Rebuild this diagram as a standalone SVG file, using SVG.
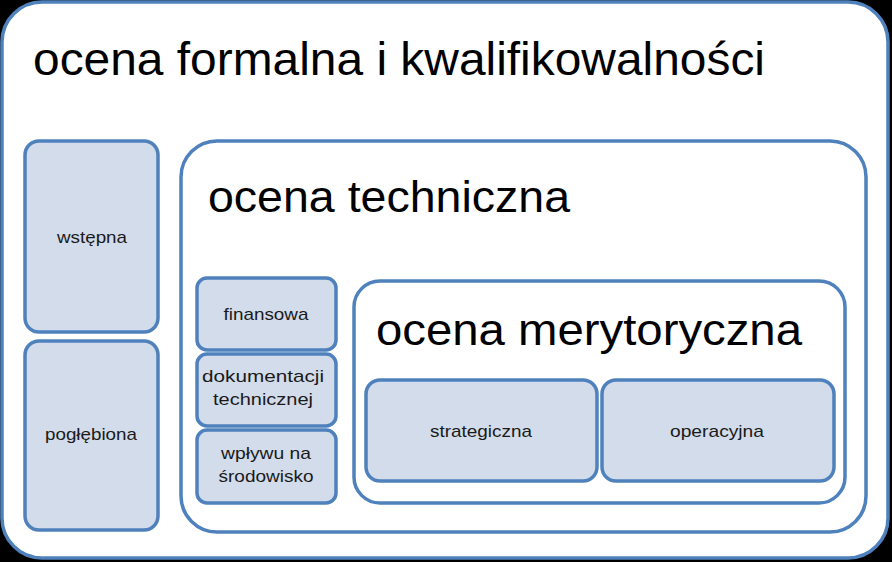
<svg xmlns="http://www.w3.org/2000/svg" width="892" height="562" viewBox="0 0 892 562">
<style>
.cont{fill:#FFFFFF;stroke:#4F81BD;stroke-width:3.5}
.box{fill:#D3DCEA;stroke:#4F81BD;stroke-width:3.5}
.big{font-family:"Liberation Sans",Arial,sans-serif;fill:#000000}
.lbl{font-family:"Liberation Sans",Arial,sans-serif;font-size:17px;fill:#1A1A1A;text-anchor:middle}
</style>
<rect x="0" y="0" width="892" height="562" fill="#000000"/>
<g id="formalna">
<rect class="cont" x="2" y="2" width="886" height="556" rx="40" ry="40"/>
<text class="big" x="33" y="75" font-size="46" textLength="732" lengthAdjust="spacingAndGlyphs">ocena formalna i kwalifikowalności</text>
</g>
<g id="wstepna">
<rect class="box" x="25" y="141" width="133" height="191" rx="14" ry="14"/>
<text class="lbl" x="92" y="243" textLength="70" lengthAdjust="spacingAndGlyphs">wstępna</text>
</g>
<g id="poglebiona">
<rect class="box" x="25" y="341" width="133" height="189" rx="14" ry="14"/>
<text class="lbl" x="91" y="440" textLength="92" lengthAdjust="spacingAndGlyphs">pogłębiona</text>
</g>
<g id="techniczna">
<rect class="cont" x="181" y="141" width="685" height="391" rx="36" ry="36"/>
<text class="big" x="208" y="212" font-size="45" textLength="362" lengthAdjust="spacingAndGlyphs">ocena techniczna</text>
</g>
<g id="finansowa">
<rect class="box" x="197" y="278" width="139" height="72" rx="10" ry="10"/>
<text class="lbl" x="266" y="320" textLength="85" lengthAdjust="spacingAndGlyphs">finansowa</text>
</g>
<g id="dokumentacji">
<rect class="box" x="197" y="354" width="139" height="72" rx="10" ry="10"/>
<text class="lbl" x="263" y="382" textLength="122" lengthAdjust="spacingAndGlyphs">dokumentacji</text>
<text class="lbl" x="263" y="405" textLength="100" lengthAdjust="spacingAndGlyphs">technicznej</text>
</g>
<g id="wplywu">
<rect class="box" x="197" y="430" width="139" height="73" rx="10" ry="10"/>
<text class="lbl" x="266" y="459" textLength="90" lengthAdjust="spacingAndGlyphs">wpływu na</text>
<text class="lbl" x="266" y="482" textLength="95" lengthAdjust="spacingAndGlyphs">środowisko</text>
</g>
<g id="merytoryczna">
<rect class="cont" x="354" y="281" width="491" height="222" rx="26" ry="26"/>
<text class="big" x="376" y="345" font-size="45" textLength="426" lengthAdjust="spacingAndGlyphs">ocena merytoryczna</text>
</g>
<g id="strategiczna">
<rect class="box" x="366" y="380" width="231" height="101" rx="14" ry="14"/>
<text class="lbl" x="481" y="437" textLength="102" lengthAdjust="spacingAndGlyphs">strategiczna</text>
</g>
<g id="operacyjna">
<rect class="box" x="602" y="380" width="232" height="101" rx="14" ry="14"/>
<text class="lbl" x="717" y="437" textLength="94" lengthAdjust="spacingAndGlyphs">operacyjna</text>
</g>
<g id="connectors"></g>
</svg>
